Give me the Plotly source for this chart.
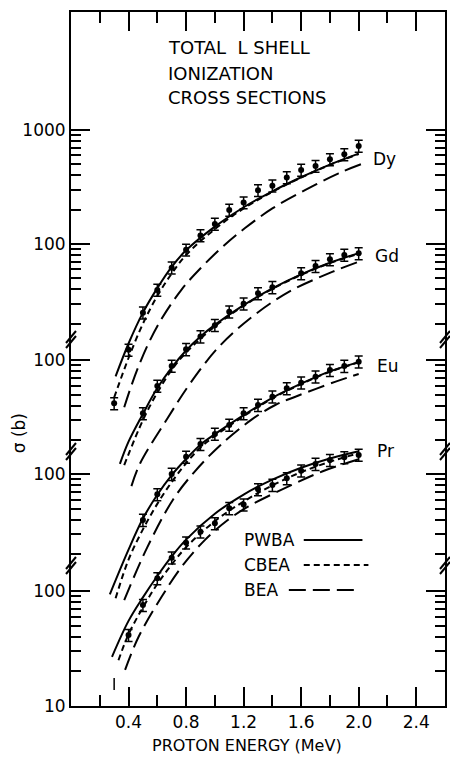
import plotly.graph_objects as go

# ---------------- data ----------------
x_major = [0.4, 0.8, 1.2, 1.6, 2.0, 2.4]
x_major_text = ["0.4", "0.8", "1.2", "1.6", "2.0", "2.4"]
x_minor = [0.2, 0.6, 1.0, 1.4, 1.8, 2.2]

# Dy (top panel)
dy_E = [0.3, 0.4, 0.5, 0.6, 0.7, 0.8, 0.9, 1.0, 1.1, 1.2, 1.3, 1.4, 1.5, 1.6, 1.7, 1.8, 1.9, 2.0]
dy_sig = [4.0, 11.8, 25, 39.5, 62, 89, 119, 150, 199, 231, 296, 325, 384, 446, 483, 553, 612, 724]
dy_pwba_E = [0.31, 0.4, 0.5, 0.6, 0.7, 0.8, 1.0, 1.2, 1.4, 1.6, 1.8, 2.0]
dy_pwba = [6.9, 13.4, 25, 41, 63, 88, 142, 210, 290, 385, 497, 620]
dy_cbea_E = [0.3, 0.4, 0.5, 0.6, 0.7, 0.8, 1.0, 1.2, 1.4, 1.6, 1.8, 2.0]
dy_cbea = [4.5, 10, 20, 35, 55, 80, 135, 205, 287, 382, 494, 615]
dy_bea_E = [0.37, 0.47, 0.6, 0.77, 0.91, 1.06, 1.21, 1.4, 1.63, 1.86, 2.02]
dy_bea = [3.7, 8.5, 19, 40, 63, 96, 138, 205, 298, 417, 503]

# Gd
gd_E = [0.5, 0.6, 0.7, 0.8, 0.9, 1.0, 1.1, 1.2, 1.3, 1.4, 1.6, 1.7, 1.8, 1.9, 2.0]
gd_sig = [34.4, 59.5, 88.7, 124, 160, 201, 263, 309, 380, 429, 567, 656, 751, 819, 847]
gd_pwba_E = [0.34, 0.4, 0.5, 0.6, 0.7, 0.8, 0.9, 1.0, 1.2, 1.4, 1.6, 1.8, 2.0]
gd_pwba = [12.5, 19.5, 34, 57, 86, 121, 160, 202, 300, 420, 555, 700, 850]
gd_cbea_E = [0.37, 0.5, 0.6, 0.7, 0.8, 1.0, 1.2, 1.4, 1.6, 1.8, 2.0]
gd_cbea = [12.2, 30, 52, 82, 116, 196, 296, 415, 550, 695, 840]
gd_bea_E = [0.42, 0.48, 0.67, 0.83, 1.03, 1.26, 1.52, 1.82, 2.0]
gd_bea = [8.0, 12.6, 31, 63, 131, 238, 395, 586, 716]

# Eu
eu_E = [0.5, 0.6, 0.7, 0.8, 0.9, 1.0, 1.1, 1.2, 1.3, 1.4, 1.5, 1.6, 1.7, 1.8, 1.9, 2.0]
eu_sig = [39.8, 66.6, 100, 141, 182, 223, 267, 337, 398, 470, 556, 622, 702, 801, 869, 948]
eu_pwba_E = [0.27, 0.4, 0.5, 0.6, 0.7, 0.8, 0.9, 1.0, 1.2, 1.4, 1.6, 1.8, 2.0]
eu_pwba = [9.0, 22, 41, 66, 98, 135, 180, 222, 325, 460, 610, 780, 940]
eu_cbea_E = [0.31, 0.4, 0.5, 0.6, 0.7, 0.8, 0.9, 1.0, 1.2, 1.4, 1.6, 1.8, 2.0]
eu_cbea = [8.3, 18, 33, 55, 85, 124, 170, 214, 318, 455, 605, 775, 935]
eu_bea_E = [0.37, 0.53, 0.71, 0.86, 1.04, 1.26, 1.42, 1.56, 1.84, 2.0]
eu_bea = [8.0, 23, 60, 105, 179, 300, 398, 470, 636, 741]

# Pr (bottom panel)
pr_E = [0.4, 0.5, 0.6, 0.7, 0.8, 0.9, 1.0, 1.1, 1.2, 1.3, 1.4, 1.5, 1.6, 1.7, 1.8, 1.9, 2.0]
pr_sig = [41.4, 75.5, 129, 195, 263, 328, 388, 524, 564, 766, 835, 955, 1112, 1271, 1376, 1454, 1524]
pr_pwba_E = [0.285, 0.4, 0.5, 0.6, 0.7, 0.8, 1.0, 1.2, 1.4, 1.6, 1.8, 2.0]
pr_pwba = [26.8, 55, 88, 135, 200, 280, 470, 690, 930, 1180, 1420, 1640]
pr_cbea_E = [0.33, 0.4, 0.5, 0.6, 0.7, 0.8, 1.0, 1.2, 1.4, 1.6, 1.8, 2.0]
pr_cbea = [25, 42, 72, 115, 170, 240, 405, 600, 830, 1080, 1330, 1580]
pr_bea_E = [0.376, 0.47, 0.63, 0.77, 0.93, 1.09, 1.23, 1.52, 1.75, 2.0]
pr_bea = [20.6, 40, 89, 163, 277, 414, 541, 820, 1100, 1400]
pr_mark_E = [0.3, 0.3]
pr_mark = [13.8, 17.5]

minor_decade = [20, 30, 40, 50, 60, 70, 80, 90]
minor_hundreds = [200, 300, 400, 500, 600, 700, 800, 900]

# ---------------- figure ----------------
FONT = "DejaVu Sans"
L, R, T, B = 71, 3, 12, 51
W, H = 450, 757
X0, X1, Y0, Y1 = L, W - R, H - B, T


def px(x):
    return (x - X0) / (X1 - X0)


def py(y):
    return (Y0 - y) / (Y0 - Y1)


fig = go.Figure()

DASH_CBEA = "6px,4px"
DASH_BEA = "17px,7px"


def add_element(E, sig, pE, p, cE, c, bE, b, yax):
    fig.add_trace(go.Scatter(x=pE, y=p, yaxis=yax, mode="lines", line_shape="spline",
                             line=dict(color="black", width=2)))
    fig.add_trace(go.Scatter(x=cE, y=c, yaxis=yax, mode="lines", line_shape="spline",
                             line=dict(color="black", width=2, dash=DASH_CBEA)))
    fig.add_trace(go.Scatter(x=bE, y=b, yaxis=yax, mode="lines", line_shape="spline",
                             line=dict(color="black", width=2, dash=DASH_BEA)))
    fig.add_trace(go.Scatter(x=E, y=sig, yaxis=yax, mode="markers",
                             marker=dict(color="black", size=6),
                             error_y=dict(type="percent", value=12, color="black",
                                          thickness=1.5, width=4)))


add_element(pr_E, pr_sig, pr_pwba_E, pr_pwba, pr_cbea_E, pr_cbea, pr_bea_E, pr_bea, "y")
add_element(eu_E, eu_sig, eu_pwba_E, eu_pwba, eu_cbea_E, eu_cbea, eu_bea_E, eu_bea, "y2")
add_element(gd_E, gd_sig, gd_pwba_E, gd_pwba, gd_cbea_E, gd_cbea, gd_bea_E, gd_bea, "y3")
add_element(dy_E, dy_sig, dy_pwba_E, dy_pwba, dy_cbea_E, dy_cbea, dy_bea_E, dy_bea, "y4")
fig.add_trace(go.Scatter(x=pr_mark_E, y=pr_mark, yaxis="y", mode="lines",
                         line=dict(color="black", width=1.5)))

tickfont = dict(family=FONT, size=17, color="black")


def yax(rng, tv, minor, overlay=True):
    d = dict(type="log", range=rng, tickmode="array", tickvals=tv,
             ticktext=[str(v) for v in tv], ticks="inside", ticklen=19, tickwidth=2,
             tickcolor="black", showline=True, linewidth=2, linecolor="black",
             mirror="ticks", showgrid=False, zeroline=False, tickfont=tickfont,
             minor=dict(tickmode="array", tickvals=minor, ticks="inside", ticklen=10,
                        tickwidth=1.5, tickcolor="black", showgrid=False),
             domain=[0, 1])
    if overlay:
        d["overlaying"] = "y"
        d["side"] = "left"
    return d


fig.update_layout(
    width=W, height=H,
    margin=dict(l=L, r=R, t=T, b=B),
    paper_bgcolor="white", plot_bgcolor="white",
    showlegend=False,
    font=dict(family=FONT, color="black"),
    xaxis=dict(range=[0, 2.6], tickmode="array", tickvals=x_major, ticktext=x_major_text,
               ticks="inside", ticklen=19, tickwidth=2, tickcolor="black",
               showline=True, linewidth=2, linecolor="black", mirror="ticks",
               showgrid=False, zeroline=False, tickfont=tickfont,
               minor=dict(tickmode="array", tickvals=x_minor, ticks="inside", ticklen=11,
                          tickwidth=1.5, tickcolor="black", showgrid=False)),
    yaxis=yax([1.0, 7.035], [10, 100], minor_decade, overlay=False),
    yaxis2=yax([-0.0174, 6.0174], [100], minor_decade),
    yaxis3=yax([-1.0087, 5.0261], [100], minor_decade),
    yaxis4=yax([-2.0526, 4.035], [100, 1000], minor_decade + minor_hundreds),
)

# axis break marks
shapes = []
for yb in [563, 449, 337]:
    for xb in [X0, X1]:
        for off in [0, 5]:
            shapes.append(dict(type="line", xref="paper", yref="paper",
                               x0=px(xb - 5), y0=py(yb + 6 + off),
                               x1=px(xb + 5), y1=py(yb - 6 + off),
                               line=dict(color="black", width=2)))

# legend samples
shapes.append(dict(type="line", xref="paper", yref="paper", x0=px(305), x1=px(364),
                   y0=py(540), y1=py(540), line=dict(color="black", width=2)))
shapes.append(dict(type="line", xref="paper", yref="paper", x0=px(305), x1=px(370),
                   y0=py(565), y1=py(565), line=dict(color="black", width=2, dash=DASH_CBEA)))
shapes.append(dict(type="line", xref="paper", yref="paper", x0=px(290), x1=px(357),
                   y0=py(590), y1=py(590), line=dict(color="black", width=2, dash=DASH_BEA)))
fig.update_layout(shapes=shapes)

ann = []


def text(x, y, s, size=17, xanchor="left", angle=0):
    ann.append(dict(xref="paper", yref="paper", x=px(x), y=py(y), text=s, showarrow=False,
                    xanchor=xanchor, yanchor="middle", textangle=angle,
                    font=dict(family=FONT, size=size, color="black")))


text(167, 47, "TOTAL  L SHELL", 18)
text(167, 73, "IONIZATION", 18)
text(167, 97, "CROSS SECTIONS", 18)
text(373, 159, "Dy")
text(375, 256, "Gd")
text(377, 366, "Eu")
text(377, 451, "Pr")
text(243, 540, "PWBA")
text(243, 565, "CBEA")
text(243, 590, "BEA")
text(248, 745, "PROTON ENERGY (MeV)", 16, xanchor="center")
text(19, 433, "σ (b)", 17, xanchor="center", angle=-90)
fig.update_layout(annotations=ann)

fig.write_html("out.html", config={"displayModeBar": False},
               post_script="document.body.style.margin='0';")
